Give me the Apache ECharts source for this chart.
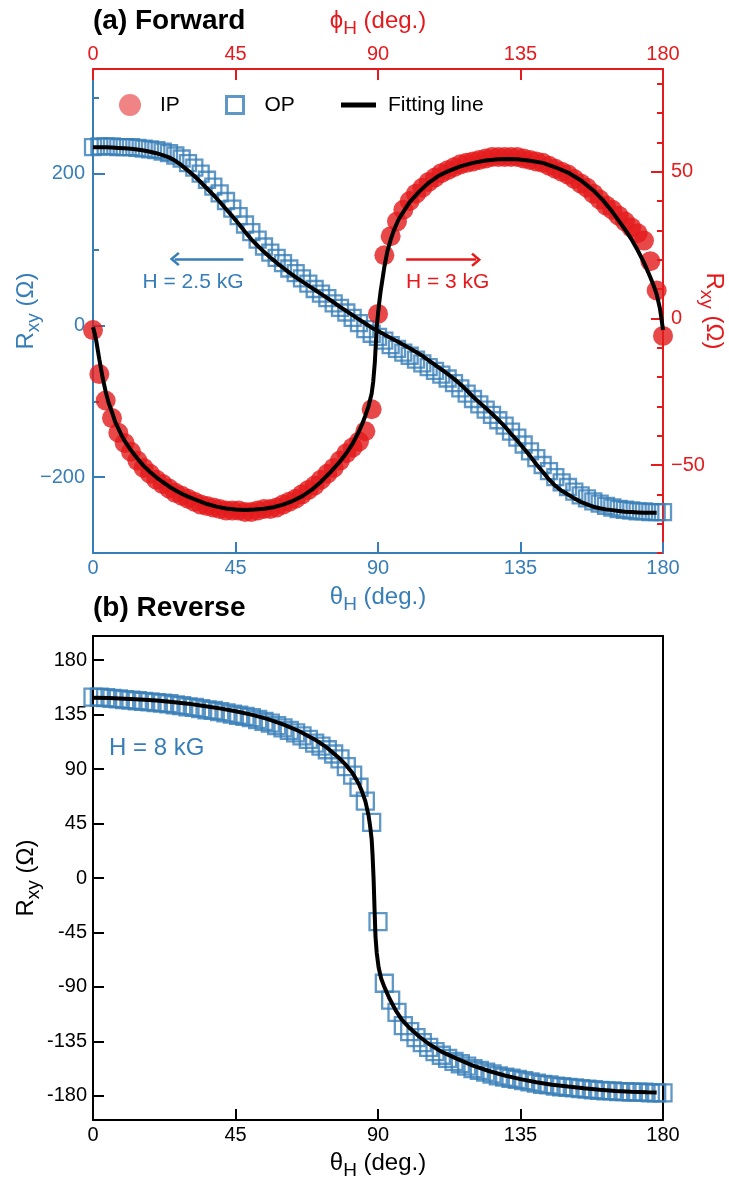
<!DOCTYPE html>
<html>
<head>
<meta charset="utf-8">
<script src="https://cdn.jsdelivr.net/npm/echarts/dist/echarts.min.js"></script>
<style>
  html, body { margin: 0; padding: 0; background: #fff; }
  #chart { width: 729px; height: 1180px; }
</style>
</head>
<body>
<div id="chart"></div>
<script>
const BLUE = '#377eb8';
const RED = '#e41a1c';
const FONT = '"Liberation Sans", Arial, Helvetica, sans-serif';

// measurement angles (deg.), one point every 2 degrees
const angles = [0, 2, 4, 6, 8, 10, 12, 14, 16, 18, 20, 22, 24, 26, 28, 30, 32, 34, 36, 38,
  40, 42, 44, 46, 48, 50, 52, 54, 56, 58, 60, 62, 64, 66, 68, 70, 72, 74, 76, 78,
  80, 82, 84, 86, 88, 90, 92, 94, 96, 98, 100, 102, 104, 106, 108, 110, 112, 114, 116, 118,
  120, 122, 124, 126, 128, 130, 132, 134, 136, 138, 140, 142, 144, 146, 148, 150, 152, 154, 156, 158,
  160, 162, 164, 166, 168, 170, 172, 174, 176, 178, 180];

// (a) forward, IP (right axis, vs phi_H)
const ipRxy = [-4, -19, -28, -34, -39, -42.5, -45.5, -48.5, -51, -53,
  -55, -56.5, -58, -59.5, -60.5, -61.5, -62.5, -63.5, -64, -64.5,
  -65, -65.5, -65.5, -65.5, -66, -66, -65.5, -65, -65, -64.5,
  -63.5, -62.5, -61.5, -60, -58.5, -57, -55, -53, -51, -48.5,
  -46, -44, -42, -38.5, -31, 1.5, 21.5, 28, 33, 37,
  40, 42.5, 44.5, 46.5, 48, 49.5, 50.5, 51.5, 52.5, 53,
  53.5, 54, 54.5, 55, 55, 55, 55, 55, 54.5, 54,
  53.5, 53, 52, 51, 50, 49, 47.5, 46, 44.5, 42.5,
  40.5, 38.5, 37, 35, 33, 31, 29, 26.5, 19.5, 9.5,
  -6];

// (a) forward, OP (left axis, vs theta_H)
const opRxyA = [235, 236, 236, 236, 235, 235, 235, 234, 233, 232,
  231, 229, 227, 224, 220, 214, 208, 200, 192, 183,
  174, 164, 154, 144, 133, 123, 113, 104, 96, 89,
  82, 75, 69, 62, 55, 48, 42, 36, 29, 23,
  17, 10, 3, -5, -11, -15, -20, -26, -31, -36,
  -40, -45, -50, -55, -60, -65, -70, -76, -83, -90,
  -97, -104, -111, -118, -125, -132, -140, -148, -157, -166,
  -175, -184, -192, -200, -207, -213, -219, -224, -228, -232,
  -235, -238, -240, -242, -243, -244, -245, -245, -246, -246,
  -246];

// (b) reverse, OP
const opRxyB = [149.5, 149.5, 149, 148.5, 148, 147.5, 147, 146.5, 146, 145.5,
  145, 144.5, 144, 143, 142.5, 141.5, 141, 140, 139, 138.5,
  137.5, 136.5, 135.5, 134.5, 133.5, 132.5, 131, 129.5, 128, 126,
  124, 122, 120, 117.5, 114.5, 111.5, 109, 106, 102.5, 98.5,
  92, 85, 75, 63.5, 46, -36, -87, -101, -111, -122,
  -127, -132, -136, -140, -143.5, -146.5, -149, -151.5, -153.5, -155.5,
  -157.5, -159, -160.5, -162, -163.5, -164.5, -165.5, -166.5, -167.5, -168.5,
  -169.5, -170.5, -171, -172, -172.5, -173, -173.5, -174, -174.5, -175,
  -175.5, -176, -176, -176.5, -176.5, -177, -177, -177, -177.5, -177.5,
  -177.5];

// fitting curves
const fitOpTheta = angles.slice(0, 90);
const fitOpRxy = [235, 235, 235, 234.5, 234, 233.5, 233, 232, 230.5, 229,
  227, 224.5, 221.5, 217, 211, 204, 197, 189, 180.5, 172,
  163, 153.5, 144, 134, 123.5, 113.5, 105, 97, 89.5, 82.5,
  76, 69.5, 63.5, 58, 52.5, 47, 41.5, 36, 30.5, 24.5,
  19, 13.5, 8, 2.5, -3, -7.5, -12, -16.5, -21, -25.5,
  -30, -35, -40, -46, -52, -58, -64, -70.5, -77.5, -85.5,
  -94, -101.5, -109, -116.5, -124.5, -133, -143, -152, -162, -172,
  -183, -193, -203, -211.5, -218, -223, -228, -232.5, -236, -239,
  -241, -242.5, -243.5, -244.5, -245.5, -246, -246.5, -247, -247, -247];

const fitIpTheta = [0, 0.5, 1, 2, 3, 4, 5, 6, 7, 8, 9, 10, 12, 14, 16, 18, 20, 22, 24, 26,
  28, 30, 33, 36, 39, 42, 45, 48, 51, 54, 57, 60, 63, 66, 69, 72, 75, 78, 80, 82,
  84, 85, 86, 87, 88, 88.5, 89, 89.3, 89.6, 90, 90.4, 90.8, 91.3, 92, 93, 94, 95, 96.5, 98, 100,
  103, 106, 109, 112, 116, 120, 124, 128, 131, 134, 138, 142, 146, 150, 154, 158, 161, 164, 166, 168,
  170, 172, 174, 175, 176, 177, 178, 179, 179.5, 180];
const fitIpRxy = [-3, -5, -7.5, -14, -20, -25, -29, -32, -35.3, -37.5, -39.8, -41.8, -45, -47.8, -50.3, -52.4, -54.2, -55.8, -57.3, -58.6,
  -59.8, -60.8, -62.1, -63.3, -64.2, -64.8, -65.2, -65.3, -65.2, -64.9, -64.4, -63.5, -62.3, -60.7, -58.5, -55.7, -52.4, -48.8, -46, -42.7,
  -38.5, -36, -33.2, -30, -25.6, -21.5, -15, -9, -3, 1.5, 5.5, 9, 12.5, 17.5, 23, 26.8, 30, 33.7, 36.3, 39.6,
  43.2, 46.2, 48.5, 50.1, 51.8, 53, 53.8, 54.2, 54.3, 54.2, 53.7, 53, 51.5, 49.7, 47.1, 43.6, 40.3, 36.3, 33.3, 30.3,
  27, 23.2, 19, 16.5, 14, 11.3, 8.2, 3.5, 0, -4];

const fitBTheta = [0, 5, 10, 15, 20, 25, 30, 35, 40, 45, 50, 55, 60, 65, 70, 74, 78, 80, 82, 84,
  85, 86, 87, 87.5, 88, 88.3, 88.6, 88.9, 89.2, 89.6, 90.2, 91, 92, 93.5, 95.5, 97.5, 100, 103, 106, 110,
  115, 120, 125, 130, 135, 140, 145, 150, 155, 160, 165, 170, 175, 178];
const fitBRxy = [149, 148.7, 148.2, 147.5, 146.7, 145.5, 144.1, 142.2, 140.2, 137.8, 135, 131.5, 127, 121.5, 114.5, 107.5, 98.5, 93, 86.5, 77.5,
  71, 63.5, 52, 43, 32, 18, 0, -25, -48, -62, -74, -83, -90, -99, -109, -117, -124, -131, -137, -143.5,
  -149.5, -155, -159.5, -163.2, -166.2, -168.8, -170.8, -172.4, -173.8, -175, -176, -176.7, -177.1, -177.2];

// tick values
const leftMajor = [-200, 0, 200];
const leftMinor = [-300, -100, 100, 300];
const rightMajor = [-50, 0, 50];
const rightMinor = [-80, -70, -60, -40, -30, -20, -10, 10, 20, 30, 40, 60, 70, 80];
const bTicks = [-180, -135, -90, -45, 0, 45, 90, 135, 180];

const zip = (xs, ys) => xs.map((x, i) => [x, ys[i]]);
const minus = (v) => (v < 0 ? '\u2212' + Math.abs(v) : String(v));

const CHEVRON = 'path://M10,0 L20,12 L17.5,14.5 L10,5.5 L2.5,14.5 L0,12 Z';

function nameStyle(color) {
  return {
    color: color,
    fontFamily: FONT,
    fontSize: 24,
    rich: {
      m: { color: color, fontFamily: FONT, fontSize: 24 },
      s: { color: color, fontFamily: FONT, fontSize: 19, padding: [14, 0, 0, 0] },
    },
  };
}

function labelStyle(color, extra) {
  return Object.assign({ color: color, fontFamily: FONT, fontSize: 20 }, extra);
}

function legendText(pad) {
  return { fontFamily: FONT, fontSize: 21, lineHeight: 24, color: '#000', padding: [0, 0, 0, pad] };
}

const chart = echarts.init(document.getElementById('chart'));

chart.setOption({
  animation: false,
  backgroundColor: '#fff',
  grid: [
    { left: 93, right: 66, top: 69, height: 484, outerBoundsMode: 'none' },
    { left: 93, right: 66, top: 636, height: 484, outerBoundsMode: 'none' },
  ],
  legend: [
    {
      left: 119, top: 93, padding: 0, itemWidth: 22, itemHeight: 22, selectedMode: false,
      textStyle: legendText(14),
      data: [{ name: 'IP', icon: 'circle', itemStyle: { color: 'rgba(228,26,28,0.68)' } }],
    },
    {
      left: 225, top: 93, padding: 0, itemWidth: 17, itemHeight: 17, selectedMode: false,
      textStyle: legendText(16),
      data: [{ name: 'OP', icon: 'rect', itemStyle: { color: 'rgba(0,0,0,0)', borderColor: BLUE, borderWidth: 3 } }],
    },
    {
      left: 341, top: 93, padding: 0, itemWidth: 35, itemHeight: 5, selectedMode: false,
      textStyle: legendText(7),
      data: [{ name: 'Fitting line', icon: 'rect', itemStyle: { color: '#000' } }],
    },
  ],
  xAxis: [
    {
      gridIndex: 0, type: 'value', position: 'bottom', min: 0, max: 180, interval: 45,
      axisLine: { onZero: false, lineStyle: { color: BLUE, width: 2 } },
      axisTick: { inside: true, length: 11, lineStyle: { color: BLUE, width: 2 } },
      axisLabel: labelStyle(BLUE, { margin: 5 }),
      splitLine: { show: false },
      name: '{m|θ}{s|H}{m| (deg.)}', nameLocation: 'middle', nameGap: 28, nameMoveOverlap: false,
      nameTextStyle: nameStyle(BLUE),
    },
    {
      gridIndex: 0, type: 'value', position: 'top', min: 0, max: 180, interval: 45,
      axisLine: { onZero: false, lineStyle: { color: RED, width: 2 } },
      axisTick: { inside: true, length: 11, lineStyle: { color: RED, width: 2 } },
      axisLabel: labelStyle(RED, { margin: 5 }),
      splitLine: { show: false },
      name: '{m|ϕ}{s|H}{m| (deg.)}', nameLocation: 'middle', nameGap: 31, nameMoveOverlap: false,
      nameTextStyle: nameStyle(RED),
    },
    {
      gridIndex: 1, type: 'value', position: 'bottom', min: 0, max: 180, interval: 45,
      axisLine: { onZero: false, lineStyle: { color: '#000', width: 2 } },
      axisTick: { inside: true, length: 11, lineStyle: { color: '#000', width: 2 } },
      axisLabel: labelStyle('#000', { margin: 5 }),
      splitLine: { show: false },
      name: '{m|θ}{s|H}{m| (deg.)}', nameLocation: 'middle', nameGap: 27, nameMoveOverlap: false,
      nameTextStyle: nameStyle('#000'),
    },
    {
      gridIndex: 1, type: 'value', position: 'top', min: 0, max: 180,
      axisLine: { onZero: false, lineStyle: { color: '#000', width: 2 } },
      axisTick: { show: false }, axisLabel: { show: false }, splitLine: { show: false },
    },
  ],
  yAxis: [
    {
      gridIndex: 0, type: 'value', position: 'left', min: -300, max: 338,
      axisLine: { onZero: false, lineStyle: { color: BLUE, width: 2 } },
      axisTick: { inside: true, length: 12, customValues: leftMajor, lineStyle: { color: BLUE, width: 2 } },
      axisLabel: labelStyle(BLUE, { margin: 8, customValues: leftMajor, formatter: minus }),
      splitLine: { show: false },
      name: '{m|R}{s|xy}{m| (Ω)}', nameLocation: 'middle', nameRotate: 90, nameGap: 50, nameMoveOverlap: false,
      nameTextStyle: nameStyle(BLUE),
    },
    {
      gridIndex: 0, type: 'value', position: 'right', min: -80, max: 85,
      axisLine: { onZero: false, lineStyle: { color: RED, width: 2 } },
      axisTick: { inside: true, length: 12, customValues: rightMajor, lineStyle: { color: RED, width: 2 } },
      axisLabel: labelStyle(RED, { margin: 8, customValues: rightMajor, formatter: minus }),
      splitLine: { show: false },
      name: '{m|R}{s|xy}{m| (Ω)}', nameLocation: 'middle', nameRotate: -90, nameGap: 34, nameMoveOverlap: false,
      nameTextStyle: nameStyle(RED),
    },
    {
      gridIndex: 0, type: 'value', position: 'left', min: -300, max: 338,
      axisLine: { show: false, onZero: false }, axisLabel: { show: false }, splitLine: { show: false },
      axisTick: { inside: true, length: 6, customValues: leftMinor, lineStyle: { color: BLUE, width: 2 } },
    },
    {
      gridIndex: 0, type: 'value', position: 'right', min: -80, max: 85,
      axisLine: { show: false, onZero: false }, axisLabel: { show: false }, splitLine: { show: false },
      axisTick: { inside: true, length: 6, customValues: rightMinor, lineStyle: { color: RED, width: 2 } },
    },
    {
      gridIndex: 1, type: 'value', position: 'left', min: -200, max: 200,
      axisLine: { onZero: false, lineStyle: { color: '#000', width: 2 } },
      axisTick: { inside: true, length: 11, customValues: bTicks, lineStyle: { color: '#000', width: 2 } },
      axisLabel: labelStyle('#000', { margin: 6, customValues: bTicks }),
      splitLine: { show: false },
      name: '{m|R}{s|xy}{m| (Ω)}', nameLocation: 'middle', nameRotate: 90, nameGap: 50, nameMoveOverlap: false,
      nameTextStyle: nameStyle('#000'),
    },
    {
      gridIndex: 1, type: 'value', position: 'right', min: -200, max: 200,
      axisLine: { onZero: false, lineStyle: { color: '#000', width: 2 } },
      axisTick: { show: false }, axisLabel: { show: false }, splitLine: { show: false },
    },
  ],
  series: [
    {
      name: 'OP', type: 'scatter', xAxisIndex: 0, yAxisIndex: 0, z: 2, clip: false,
      symbol: 'rect', symbolSize: 16,
      itemStyle: { color: 'rgba(0,0,0,0)', borderColor: BLUE, borderWidth: 2.3 },
      data: zip(angles, opRxyA),
      markLine: {
        silent: true, animation: false, symbol: ['none', CHEVRON], symbolSize: [14, 10],
        label: { show: false },
        lineStyle: { type: 'solid', color: BLUE, width: 2.5 },
        data: [[{ coord: [47.5, 87.5] }, { coord: [25.8, 87.5] }]],
      },
    },
    {
      name: 'IP', type: 'scatter', xAxisIndex: 1, yAxisIndex: 1, z: 3, clip: false,
      symbol: 'circle', symbolSize: 20,
      itemStyle: { color: RED },
      data: zip(angles, ipRxy),
      markLine: {
        silent: true, animation: false, symbol: ['none', CHEVRON], symbolSize: [14, 10],
        label: { show: false },
        lineStyle: { type: 'solid', color: RED, width: 2.5 },
        data: [[{ coord: [98.9, 20] }, { coord: [121, 20] }]],
      },
    },
    {
      name: 'Fitting line', type: 'line', xAxisIndex: 0, yAxisIndex: 0, z: 4,
      showSymbol: false, symbol: 'none',
      lineStyle: { color: '#000', width: 4 },
      data: zip(fitOpTheta, fitOpRxy),
    },
    {
      name: 'Fitting line', type: 'line', xAxisIndex: 1, yAxisIndex: 1, z: 4,
      showSymbol: false, symbol: 'none',
      lineStyle: { color: '#000', width: 4 },
      data: zip(fitIpTheta, fitIpRxy),
    },
    {
      name: 'OP', type: 'scatter', xAxisIndex: 2, yAxisIndex: 4, z: 2, clip: false,
      symbol: 'rect', symbolSize: 17,
      itemStyle: { color: 'rgba(0,0,0,0)', borderColor: BLUE, borderWidth: 2.3 },
      data: zip(angles, opRxyB),
    },
    {
      name: 'Fitting line', type: 'line', xAxisIndex: 2, yAxisIndex: 4, z: 4,
      showSymbol: false, symbol: 'none',
      lineStyle: { color: '#000', width: 4 },
      data: zip(fitBTheta, fitBRxy),
    },
  ],
  graphic: [
    { type: 'text', x: 93, y: 21, style: { text: '(a) Forward', fill: '#000', fontFamily: FONT, fontSize: 28, fontWeight: 'bold', align: 'left', verticalAlign: 'middle' } },
    { type: 'text', x: 93, y: 608, style: { text: '(b) Reverse', fill: '#000', fontFamily: FONT, fontSize: 28, fontWeight: 'bold', align: 'left', verticalAlign: 'middle' } },
    { type: 'text', x: 193, y: 282, style: { text: 'H = 2.5 kG', fill: BLUE, fontFamily: FONT, fontSize: 21, align: 'center', verticalAlign: 'middle' } },
    { type: 'text', x: 406, y: 282, style: { text: 'H = 3 kG', fill: RED, fontFamily: FONT, fontSize: 21, align: 'left', verticalAlign: 'middle' } },
    { type: 'text', x: 109, y: 748, style: { text: 'H = 8 kG', fill: BLUE, fontFamily: FONT, fontSize: 24, align: 'left', verticalAlign: 'middle' } },
  ],
});

window.addEventListener('resize', () => chart.resize());
</script>
</body>
</html>
